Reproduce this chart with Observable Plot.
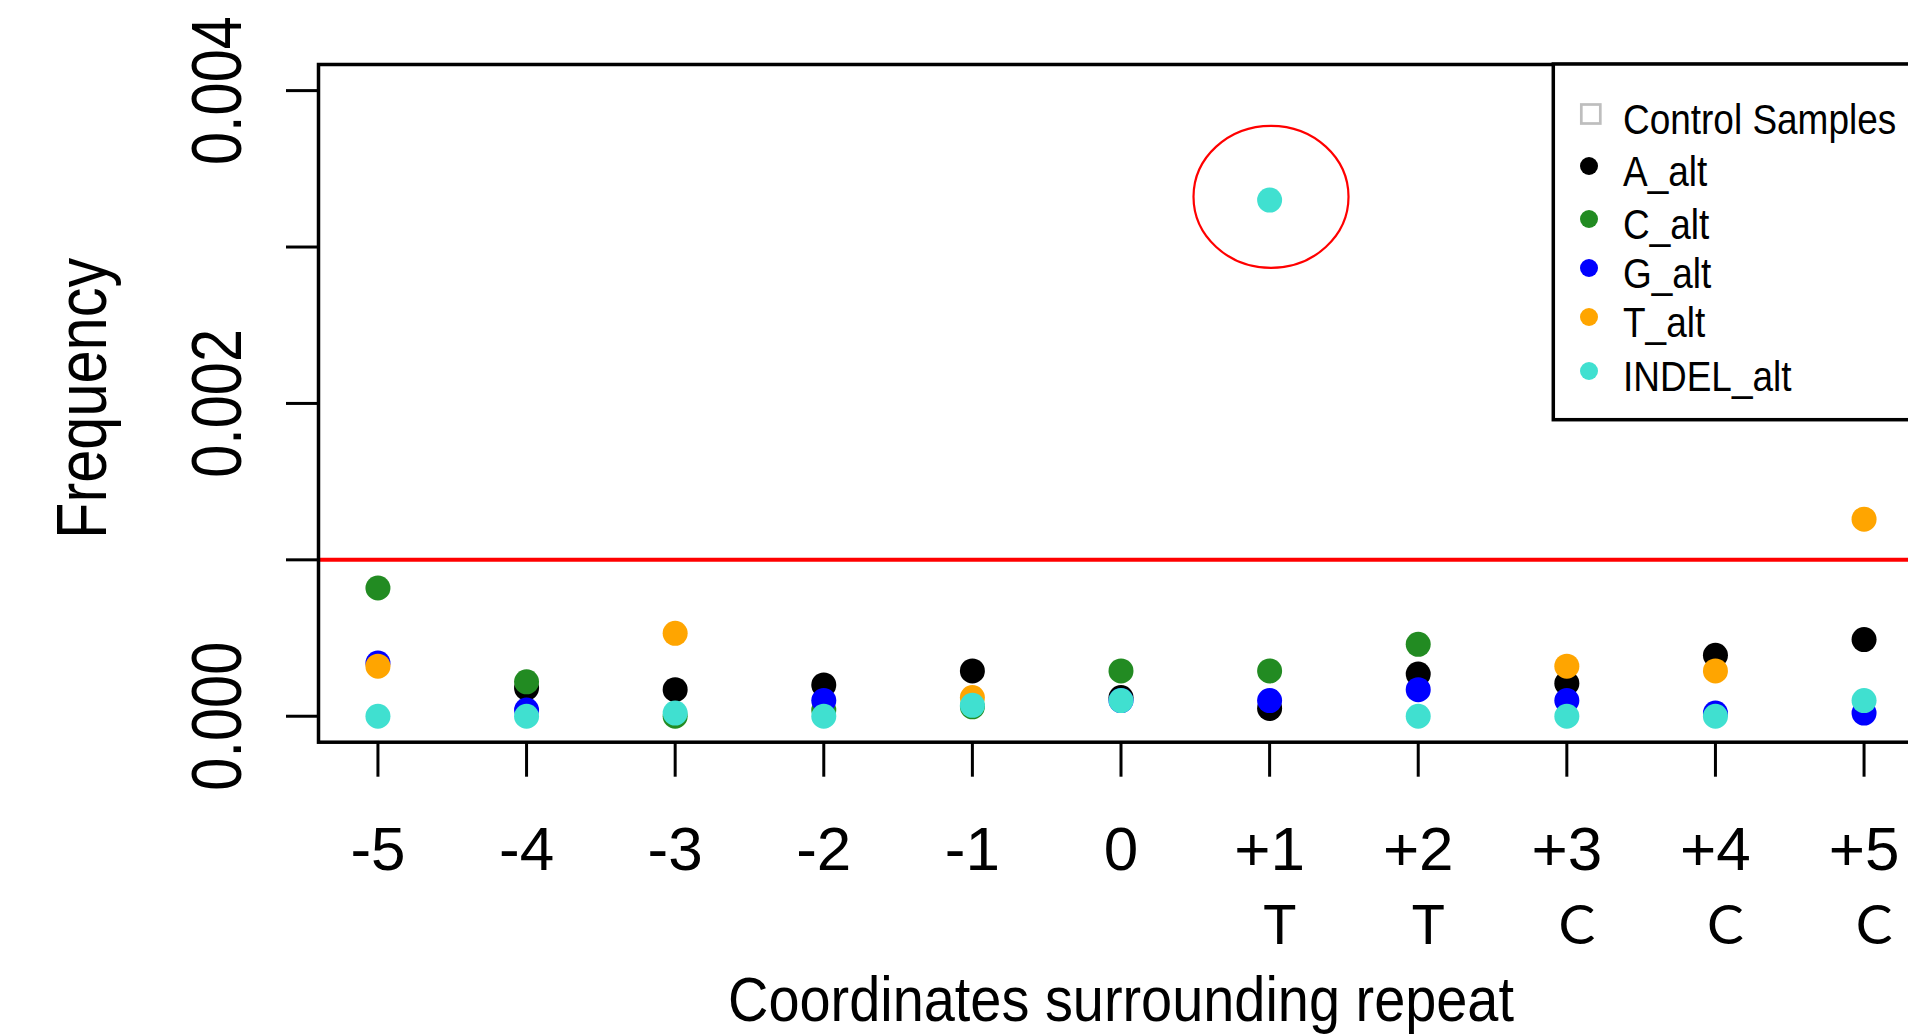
<!DOCTYPE html>
<html>
<head>
<meta charset="utf-8">
<script src="https://cdn.jsdelivr.net/npm/d3@7"></script>
<script src="https://cdn.jsdelivr.net/npm/@observablehq/plot@0.6"></script>
<style>
  html, body { margin: 0; padding: 0; background: white; overflow: hidden; }
  #wrap { position: relative; width: 1908px; height: 1036px; overflow: hidden; }
  #chart { position: absolute; left: 0; top: 0; width: 1925px; }
  #chart svg { max-width: none !important; }
  #legend { position: absolute; left: 1540px; top: 50px; }
</style>
</head>
<body>
<div id="wrap"><div id="chart"></div><div id="legend"></div></div>
<script>
// ---- data ----
const positions = [-5, -4, -3, -2, -1, 0, 1, 2, 3, 4, 5];
const positionLabels = ["-5", "-4", "-3", "-2", "-1", "0", "+1", "+2", "+3", "+4", "+5"];
const basePositions = [1, 2, 3, 4, 5];
const baseLetters = ["T", "T", "C", "C", "C"];

// null = reference base at that position (no alternative plotted)
const A_alt     = [null,    0.00018, 0.00017, 0.00020, 0.00029, 0.00012, 0.00005, 0.00027, 0.00021, 0.00039, 0.00049];
const C_alt     = [0.00082, 0.00022, 0.00000, 0.00004, 0.00006, 0.00029, 0.00029, 0.00046, null,    null,    null];
const G_alt     = [0.00034, 0.00004, null,    0.00010, null,    0.00010, 0.00010, 0.00017, 0.00010, 0.00002, 0.00002];
const T_alt     = [0.00032, null,    0.00053, null,    0.00012, null,    null,    null,    0.00032, 0.00029, 0.00126];
const INDEL_alt = [0.00000, 0.00000, 0.00002, 0.00000, 0.00007, 0.00010, 0.00330, 0.00000, 0.00000, 0.00000, 0.00010];

const seriesNames = ["A_alt", "C_alt", "G_alt", "T_alt", "INDEL_alt"];
const seriesValues = [A_alt, C_alt, G_alt, T_alt, INDEL_alt];
const seriesColors = ["#000000", "#228B22", "#0000FF", "#FFA500", "#40E0D0"];

const legendLabels = ["Control Samples", "A_alt", "C_alt", "G_alt", "T_alt", "INDEL_alt"];

const yTicks = [0, 0.001, 0.002, 0.003, 0.004];
const yLabelValues = [0, 0.002, 0.004];
const yLabelTexts = ["0.000", "0.002", "0.004"];
const threshold = [0.001];
const highlighted = [{pos: 1, value: 0.00330}];

const xTitle = "Coordinates surrounding repeat";
const yTitle = "Frequency";

// ---- table ----
const table = [];
seriesNames.forEach((s, k) => {
  positions.forEach((p, i) => {
    const v = seriesValues[k][i];
    if (v != null) table.push({pos: p, value: v, series: s});
  });
});

// custom ellipse symbol for the annotation ring
const ellipseSymbol = {
  draw(ctx) {
    const rx = 77.5, ry = 71, k = 0.5523;
    ctx.moveTo(rx, 0);
    ctx.bezierCurveTo(rx, ry * k, rx * k, ry, 0, ry);
    ctx.bezierCurveTo(-rx * k, ry, -rx, ry * k, -rx, 0);
    ctx.bezierCurveTo(-rx, -ry * k, -rx * k, -ry, 0, -ry);
    ctx.bezierCurveTo(rx * k, -ry, rx, -ry * k, rx, 0);
    ctx.closePath();
  }
};

const chart = Plot.plot({
  width: 1925,
  height: 1036,
  marginLeft: 318,
  marginRight: 2,
  marginTop: 64,
  marginBottom: 294.3,
  style: {fontFamily: "'Liberation Sans', Arial, sans-serif", background: "white", color: "black", overflow: "visible", maxWidth: "none"},
  x: {domain: [-5.4, 5.4], label: null},
  y: {domain: [-0.000166, 0.004167], label: null},
  color: {domain: seriesNames, range: seriesColors},
  marks: [
    Plot.axisX({ticks: positions, tickSize: 35, tickPadding: 49, strokeWidth: 3, fontSize: 62,
      tickFormat: d => positionLabels[positions.indexOf(d)], label: null}),
    Plot.axisY({ticks: yTicks, tickSize: 32, strokeWidth: 3, tickFormat: () => "", label: null}),
    Plot.text(yLabelValues, {y: yLabelValues, text: yLabelTexts, frameAnchor: "left", dx: -78,
      rotate: -90, textAnchor: "middle", lineAnchor: "bottom", fontSize: 70}),
    Plot.text([yTitle], {text: d => d, frameAnchor: "left", dx: -213, dy: -5, rotate: -90,
      textAnchor: "middle", lineAnchor: "bottom", fontSize: 70}),
    Plot.text(basePositions, {x: basePositions, text: baseLetters, frameAnchor: "bottom", dy: 202, dx: 10,
      lineAnchor: "bottom", fontSize: 55, fontFamily: "Lato, 'Open Sans', sans-serif"}),
    Plot.text([xTitle], {text: d => d, frameAnchor: "bottom", dy: 278.5, lineAnchor: "bottom",
      fontSize: 63.5}),
    Plot.ruleY(threshold, {stroke: "#FF0000", strokeWidth: 4}),
    Plot.dot(table, {x: "pos", y: "value", fill: "series", r: 12.5}),
    Plot.dot(highlighted, {x: "pos", y: "value", symbol: ellipseSymbol, r: 74, fill: "none",
      stroke: "#FF0000", strokeWidth: 2.2, dx: 1.4, dy: -3.3}),
    Plot.frame({stroke: "black", strokeWidth: 3.5})
  ]
});
document.getElementById("chart").appendChild(chart);

// narrow glyph rendering of the source: compress text length
function squeezeText(el, f) {
  const L = el.getComputedTextLength();
  if (L > 0) {
    el.setAttribute("textLength", (L * f).toFixed(1));
    el.setAttribute("lengthAdjust", "spacingAndGlyphs");
  }
}
const squeezeMap = new Map([["0.000", 0.85], ["0.002", 0.85], ["0.004", 0.85], [yTitle, 0.85], [xTitle, 0.88]]);
d3.select(chart).selectAll("text").each(function() {
  const t = this.textContent;
  if (squeezeMap.has(t)) squeezeText(this, squeezeMap.get(t));
});

// ---- legend (inside plot, top right) ----
const lg = d3.select("#legend").append("svg")
  .attr("width", 368).attr("height", 380)
  .style("font-family", "'Liberation Sans', Arial, sans-serif");
lg.append("rect").attr("x", 13.3).attr("y", 14).attr("width", 420).attr("height", 355.7)
  .attr("fill", "white").attr("stroke", "black").attr("stroke-width", 3.5);
const rowY = [64, 116, 169, 218, 267, 321];
legendLabels.forEach((lab, i) => {
  const y = rowY[i];
  if (i === 0) {
    lg.append("rect").attr("x", 50.8 - 9.5).attr("y", y - 9.5).attr("width", 19).attr("height", 19)
      .attr("fill", "none").attr("stroke", "#BEBEBE").attr("stroke-width", 2.7);
  } else {
    lg.append("circle").attr("cx", 49).attr("cy", y).attr("r", 9).attr("fill", seriesColors[i - 1]);
  }
  const t = lg.append("text").attr("x", 83).attr("y", y + 20)
    .attr("font-size", 42).attr("fill", "black").text(lab);
  squeezeText(t.node(), 0.88);
});
</script>
</body>
</html>
